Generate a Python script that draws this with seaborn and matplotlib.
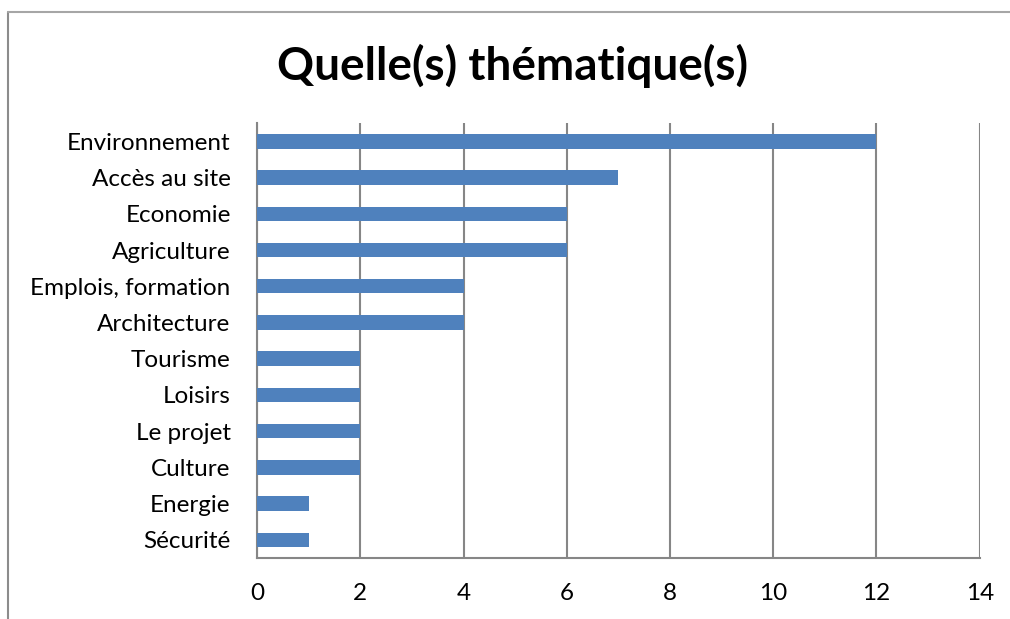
import matplotlib
matplotlib.use("Agg")
import matplotlib.pyplot as plt
import seaborn as sns
import pandas as pd
from matplotlib.lines import Line2D
from matplotlib.ticker import FixedLocator

themes = ['Environnement', 'Accès au site', 'Economie', 'Agriculture',
          'Emplois, formation', 'Architecture', 'Tourisme', 'Loisirs',
          'Le projet', 'Culture', 'Energie', 'Sécurité']
counts = [12, 7, 6, 6, 4, 4, 2, 2, 2, 2, 1, 1]
x_ticks = [0, 2, 4, 6, 8, 10, 12, 14]

df = pd.DataFrame({'Theme': themes, 'Count': counts})

sns.set_style('white')
plt.rcParams['font.family'] = ['Lato', 'DejaVu Sans']
plt.rcParams['text.color'] = 'black'
plt.rcParams['xtick.color'] = 'black'
plt.rcParams['ytick.color'] = 'black'

fig = plt.figure(figsize=(10.10, 6.19), dpi=100)
ax = fig.add_axes([0.2545, 0.0985, 0.7155, 0.7025])

grid_col = '#868686'
sns.barplot(data=df, x='Count', y='Theme', orient='h', color='#4F81BD',
            saturation=1, width=0.4, linewidth=0, ax=ax, zorder=3)

ax.set_xlim(0, 14)
ax.set_ylim(len(themes) - 0.5, -0.5)
ax.set_xticks(x_ticks)
ax.set_xticklabels([str(t) for t in x_ticks], fontsize=17.5)
ax.tick_params(axis='x', length=6, width=1.5, color=grid_col, labelcolor='black', pad=12)
ax.tick_params(axis='y', which='major', length=0, labelsize=17.5, labelcolor='black', pad=19)
ax.yaxis.set_minor_locator(FixedLocator([i - 0.5 for i in range(len(themes) + 1)]))
ax.tick_params(axis='y', which='minor', length=7, width=1.5, color=grid_col)
ax.xaxis.grid(True, color=grid_col, linewidth=1.5, zorder=0)
ax.set_axisbelow(True)
ax.set_xlabel('')
ax.set_ylabel('')

for side in ['top', 'right']:
    ax.spines[side].set_visible(False)
for side in ['left', 'bottom']:
    ax.spines[side].set_color(grid_col)
    ax.spines[side].set_linewidth(1.5)

fig.suptitle('Quelle(s) thématique(s)', fontsize=33, fontweight='bold',
             color='black', x=0.507, y=0.893, va='center')

# outer chart border (left and top edges visible)
fig.add_artist(Line2D([0.008, 0.008], [0, 0.981], transform=fig.transFigure,
                      color='#8c8c8c', linewidth=1.5))
fig.add_artist(Line2D([0.008, 1.0], [0.981, 0.981], transform=fig.transFigure,
                      color='#a6a6a6', linewidth=1.5))

plt.savefig('out.png', dpi=100)
